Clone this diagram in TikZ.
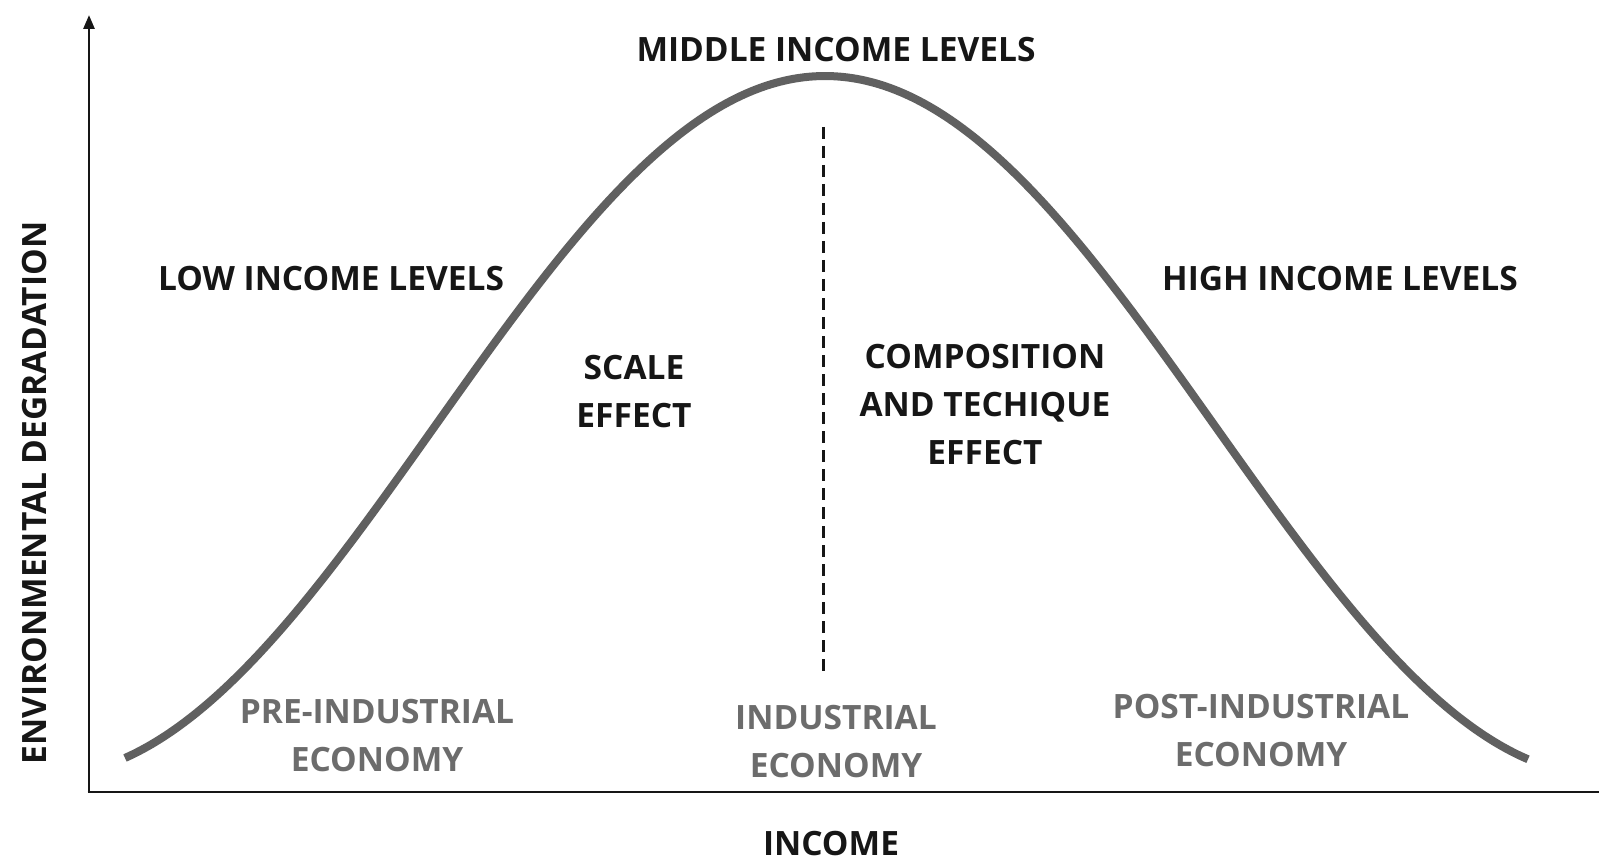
\documentclass[tikz,border=0pt]{standalone}
\usepackage{fontspec}
\setmainfont{Open Sans}
\usetikzlibrary{arrows.meta}
\definecolor{curvegray}{HTML}{606060}
\definecolor{labgray}{HTML}{6C6C6C}
\definecolor{ink}{HTML}{161616}
\begin{document}
\begin{tikzpicture}[x=1pt,y=-1pt,
  lab/.style={font=\fontsize{33.5}{48}\selectfont\bfseries, text=ink, align=center, inner sep=0pt, anchor=north},
  glab/.style={lab, text=labgray},
  axis/.style={line width=2.6pt, draw=ink},
  bell/.style={line width=8pt, draw=curvegray},
  divider/.style={line width=3pt, draw=ink, dash pattern=on 12pt off 7pt}]
\useasboundingbox[fill=white] (0,0) rectangle (1599,861);
% axes
\coordinate (origin) at (89,792);
\coordinate (ytip) at (89,15);
\coordinate (xend) at (1599,792);
\draw[axis, -{Triangle[length=14pt,width=11pt]}] ([yshift=1.3pt]origin) -- (ytip);
\draw[axis] ([xshift=-1.3pt]origin) -- (xend);
% bell curve
\draw[bell] plot[domain=-700:703, samples=160, smooth] ({825+\x},{76+350*(1-cos(\x*0.230769))});
% dashed divider
\coordinate (dtop) at (823,127);
\coordinate (dbot) at (823,673);
\draw[divider] (dtop) -- (dbot);
% labels
\node[lab] (middle) at (836,37) {MIDDLE INCOME LEVELS};
\node[lab] (low) at (331,266) {LOW INCOME LEVELS};
\node[lab] (high) at (1340,266) {HIGH INCOME LEVELS};
\node[lab] (scale) at (634,355) {SCALE\\EFFECT};
\node[lab] (comp) at (985,344) {COMPOSITION\\AND TECHIQUE\\EFFECT};
\node[glab] (pre) at (377,699) {PRE-INDUSTRIAL\\ECONOMY};
\node[glab] (ind) at (836,705) {INDUSTRIAL\\ECONOMY};
\node[glab] (post) at (1261,694) {POST-INDUSTRIAL\\ECONOMY};
\node[lab] (xlab) at (831,831) {INCOME};
\node[lab, rotate=90] (ylab) at (22,493) {ENVIRONMENTAL DEGRADATION};
\end{tikzpicture}
\end{document}
